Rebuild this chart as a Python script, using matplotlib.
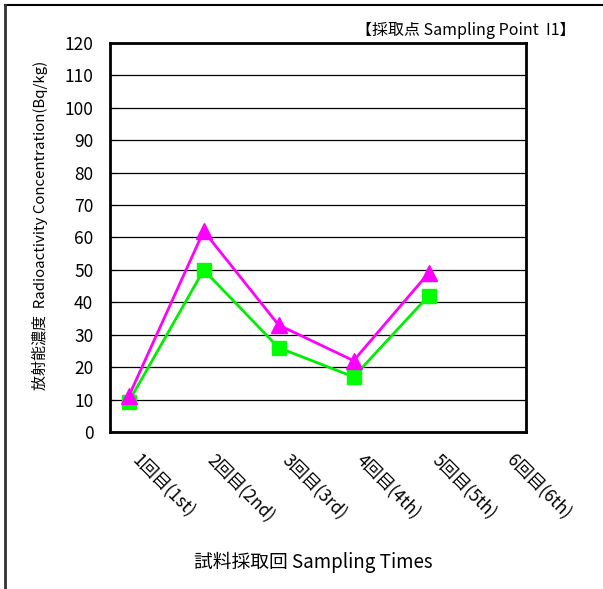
import matplotlib
matplotlib.use('Agg')
import matplotlib.pyplot as plt
import matplotlib.transforms as mtransforms
from matplotlib.lines import Line2D

plt.rcParams['font.family'] = ['Noto Sans CJK JP', 'DejaVu Sans']

# data
times = ['1回目(1st)', '2回目(2nd)', '3回目(3rd)', '4回目(4th)', '5回目(5th)', '6回目(6th)']
series_a = [9.3, 50, 26, 17, 42]      # green squares
series_b = [11, 62, 33, 22, 49]       # magenta triangles
yticks = list(range(0, 121, 10))

fig = plt.figure(figsize=(6.03, 5.89), dpi=100)
ax = fig.add_axes([0.1824, 0.2666, 0.6899, 0.6604])

x = list(range(len(series_a)))
ax.plot(x, series_a, color='#00ee00', lw=2, marker='s', ms=10,
        mfc='#00ff00', mec='#00ff00', zorder=3)
ax.plot(x, series_b, color='#ff00ff', lw=2, marker='^', ms=11,
        mfc='#ff00ff', mec='#ff00ff', zorder=4)

ax.set_xlim(-0.25, 5.3)
ax.set_ylim(0, 120)
ax.set_yticks(yticks)
ax.yaxis.grid(True, color='black', lw=0.9)
ax.set_axisbelow(True)
ax.tick_params(axis='y', direction='in', length=4, labelsize=12.5, pad=12)
ax.tick_params(axis='x', length=0, pad=14)
ax.set_xticks(range(len(times)))
ax.set_xticklabels(times, rotation=-45, ha='left', va='top',
                   rotation_mode='anchor', fontsize=12.5)
shift = mtransforms.ScaledTranslation(12 / 100, 0, fig.dpi_scale_trans)
for lbl in ax.get_xticklabels():
    lbl.set_transform(lbl.get_transform() + shift)
for s in ax.spines.values():
    s.set_linewidth(2)

ax.set_ylabel('放射能濃度  Radioactivity Concentration(Bq/kg)', fontsize=10.8)
ax.yaxis.set_label_coords(-0.148, 0.53)
fig.text(0.52, 0.045, '試料採取回 Sampling Times', ha='center', va='center', fontsize=13.5)
fig.text(0.955, 0.948, '【採取点 Sampling Point  I1】', ha='right', va='center', fontsize=11.5)

# outer frame lines (top and left only)
fig.add_artist(Line2D([0.009, 1.0], [0.991, 0.991], color='black', lw=1.5))
fig.add_artist(Line2D([0.009, 0.009], [0.0, 0.991], color='#333333', lw=2))

fig.savefig('out.png', dpi=100)
